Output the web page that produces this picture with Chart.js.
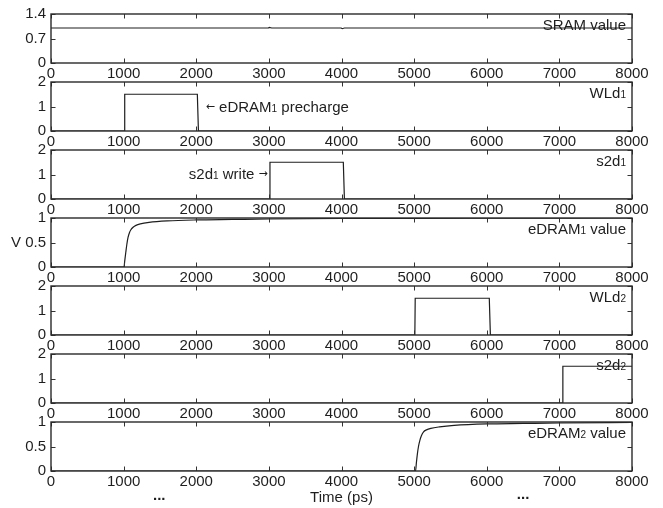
<!DOCTYPE html>
<html><head><meta charset="utf-8">
<script src="https://cdn.jsdelivr.net/npm/chart.js@4.4.0/dist/chart.umd.min.js"></script>
<style>
html,body{margin:0;padding:0;background:#fff;}
#wrap{position:relative;width:663px;height:508px;overflow:hidden;background:#fff;}
canvas{position:absolute;left:0;top:0;}
</style></head><body><div id="wrap"></div>
<script>
// ---------- data ----------
const xTickValues = [0, 1000, 2000, 3000, 4000, 5000, 6000, 7000, 8000];

const sramTime  = [0, 2995, 3005, 3040, 3995, 4010, 4040, 8000];
const sramVolt  = [1, 1, 1.02, 1, 1, 0.98, 1, 1];

const wld1Time  = [0, 1010, 1015, 2015, 2030, 8000];
const wld1Volt  = [0, 0, 1.5, 1.5, 0, 0];

const s2d1Time  = [0, 3010, 3015, 4025, 4040, 8000];
const s2d1Volt  = [0, 0, 1.5, 1.5, 0, 0];

const edram1Time = [0, 1005, 1015, 1030, 1045, 1060, 1080, 1100, 1130, 1170, 1230, 1350, 1600, 2000, 2500, 3000, 4000, 5000, 6000, 8000];
const edram1Volt = [0, 0, 0.12, 0.3, 0.47, 0.6, 0.7, 0.76, 0.81, 0.85, 0.88, 0.91, 0.94, 0.96, 0.97, 0.98, 0.99, 0.993, 0.996, 1.0];

const wld2Time  = [0, 5010, 5015, 6035, 6050, 8000];
const wld2Volt  = [0, 0, 1.5, 1.5, 0, 0];

const s2d2Time  = [0, 7040, 7048, 8000];
const s2d2Volt  = [0, 0, 1.5, 1.5];

const edram2Time = [0, 5020, 5030, 5045, 5060, 5080, 5100, 5130, 5170, 5230, 5350, 5550, 6000, 6500, 7000, 8000];
const edram2Volt = [0, 0, 0.15, 0.35, 0.5, 0.63, 0.72, 0.8, 0.84, 0.87, 0.9, 0.93, 0.96, 0.97, 0.98, 0.99];

const yTicks1 = [0, 0.7, 1.4];
const yTicks2 = [0, 1, 2];
const yTicksV = [0, 0.5, 1];

const seriesNames = ["SRAM value", "WLd₁", "s2d₁", "eDRAM₁ value", "WLd₂", "s2d₂", "eDRAM₂ value"];
const xTitle = "Time (ps)";
const yTitle = "V";

// ---------- layout / build ----------
const FONT = "'Liberation Sans', Arial, Helvetica, sans-serif";
const INK = '#1e1e1e';
const W = 663, H = 508, XH = 20;

const panels = [
  {t: sramTime,   v: sramVolt,   yt: yTicks1, top: 14,  bottom: 63},
  {t: wld1Time,   v: wld1Volt,   yt: yTicks2, top: 82,  bottom: 131},
  {t: s2d1Time,   v: s2d1Volt,   yt: yTicks2, top: 150, bottom: 199},
  {t: edram1Time, v: edram1Volt, yt: yTicksV, top: 218, bottom: 267, smooth: true},
  {t: wld2Time,   v: wld2Volt,   yt: yTicks2, top: 286, bottom: 335},
  {t: s2d2Time,   v: s2d2Volt,   yt: yTicks2, top: 354, bottom: 403},
  {t: edram2Time, v: edram2Volt, yt: yTicksV, top: 422, bottom: 471, smooth: true}
];

// rich text: ₁₂ drawn as small digits, ←→ as small raised arrows
function runs(str) {
  const out = [];
  for (const ch of str) {
    let type = 'n', c = ch;
    if (ch === '₁' || ch === '₂') { type = 's'; c = ch === '₁' ? '1' : '2'; }
    else if (ch === '←' || ch === '→') type = 'a';
    const last = out[out.length - 1];
    if (last && last.type === type) last.text += c; else out.push({type, text: c});
  }
  return out;
}
function fontFor(type) {
  if (type === 'a') return "11px 'DejaVu Sans', sans-serif";
  return (type === 'n' ? 15 : 10) + 'px ' + FONT;
}
function richWidth(ctx, str) {
  let w = 0;
  for (const r of runs(str)) { ctx.font = fontFor(r.type); w += ctx.measureText(r.text).width; }
  return w;
}
function drawRich(ctx, str, x, base, align) {
  if (align === 'right') x -= richWidth(ctx, str);
  ctx.textAlign = 'left'; ctx.textBaseline = 'alphabetic'; ctx.fillStyle = INK;
  for (const r of runs(str)) {
    ctx.font = fontFor(r.type);
    const dy = r.type === 's' ? 0.5 : (r.type === 'a' ? -1.5 : 0);
    ctx.fillText(r.text, x, base + dy);
    x += ctx.measureText(r.text).width;
  }
}

const annotations = {
  1: [{text: "← eDRAM₁ precharge", x: 2130, y: 0.79, align: 'left'}],
  2: [{text: "s2d₁ write →", x: 2985, y: 0.82, align: 'right'}]
};

function makePlugin(idx) {
  return {
    id: 'frame' + idx,
    afterDatasetsDraw(chart) {
      const {ctx, chartArea: a, scales: {x, y}} = chart;
      ctx.save();
      // inward ticks on all four sides
      ctx.strokeStyle = '#333'; ctx.lineWidth = 1;
      const L = 4.5;
      ctx.beginPath();
      x.ticks.forEach(t => {
        const px = Math.round(x.getPixelForValue(t.value)) + 0.5;
        ctx.moveTo(px, a.bottom); ctx.lineTo(px, a.bottom - L);
        ctx.moveTo(px, a.top); ctx.lineTo(px, a.top + L);
      });
      y.ticks.forEach(t => {
        const py = Math.round(y.getPixelForValue(t.value)) + 0.5;
        ctx.moveTo(a.left, py); ctx.lineTo(a.left + L, py);
        ctx.moveTo(a.right, py); ctx.lineTo(a.right - L, py);
      });
      ctx.stroke();
      ctx.lineWidth = 1.4; ctx.strokeStyle = '#2a2a2a';
      ctx.strokeRect(a.left, a.top, a.right - a.left, a.bottom - a.top);
      // series name at top right
      drawRich(ctx, seriesNames[idx], a.right - 6, a.top + 15.5, 'right');
      (annotations[idx] || []).forEach(an => {
        drawRich(ctx, an.text, x.getPixelForValue(an.x), y.getPixelForValue(an.y), an.align);
      });
      if (idx === 3) {
        ctx.font = '15px ' + FONT; ctx.fillStyle = INK;
        ctx.textAlign = 'left'; ctx.textBaseline = 'middle';
        ctx.fillText(yTitle, 11, y.getPixelForValue(0.5));
      }
      if (idx === 6) {
        ctx.font = '15px ' + FONT; ctx.fillStyle = INK;
        ctx.textAlign = 'center'; ctx.textBaseline = 'alphabetic';
        ctx.fillText(xTitle, (a.left + a.right) / 2, 502);
        ctx.font = 'bold 15px ' + FONT;
        ctx.fillText('...', x.getPixelForValue(1490), 500);
        ctx.fillText('...', x.getPixelForValue(6500), 499);
      }
      ctx.restore();
    }
  };
}

const wrap = document.getElementById('wrap');
panels.forEach((p, idx) => {
  const cv = document.createElement('canvas');
  cv.width = W; cv.height = H;
  cv.style.width = W + 'px'; cv.style.height = H + 'px';
  wrap.appendChild(cv);
  const tickFont = {family: FONT, size: 15};
  new Chart(cv.getContext('2d'), {
    type: 'line',
    data: {
      datasets: [{
        data: p.t.map((t, i) => ({x: t, y: p.v[i]})),
        borderColor: INK, borderWidth: 1.2, pointRadius: 0,
        cubicInterpolationMode: p.smooth ? 'monotone' : 'default',
        tension: 0, fill: false
      }]
    },
    options: {
      responsive: false, animation: false, devicePixelRatio: 1,
      layout: {padding: {top: p.top, bottom: H - p.bottom - XH, left: 0, right: 31}},
      plugins: {legend: {display: false}, tooltip: {enabled: false}},
      events: [],
      scales: {
        x: {
          type: 'linear', min: 0, max: 8000,
          afterBuildTicks: s => { s.ticks = xTickValues.map(v => ({value: v})); },
          afterFit: s => { s.height = XH; },
          grid: {display: false, drawTicks: false}, border: {display: false},
          ticks: {padding: 2, color: INK, font: tickFont, maxRotation: 0, autoSkip: false,
                  callback: v => String(v)}
        },
        y: {
          type: 'linear', min: p.yt[0], max: p.yt[p.yt.length - 1],
          afterBuildTicks: s => { s.ticks = p.yt.map(v => ({value: v})); },
          afterFit: s => { s.width = 51; },
          grid: {display: false, drawTicks: false}, border: {display: false},
          ticks: {padding: 5, color: INK, font: tickFont, autoSkip: false,
                  callback: v => String(v)}
        }
      }
    },
    plugins: [makePlugin(idx)]
  });
});
</script>
</body></html>
